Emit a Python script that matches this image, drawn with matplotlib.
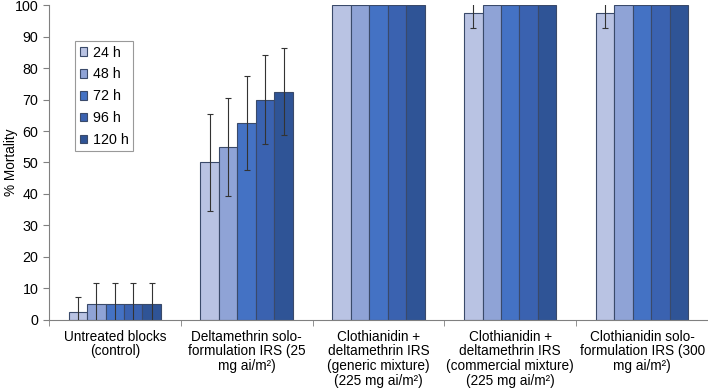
import numpy as np
import matplotlib.pyplot as plt

plt.rcParams['font.family'] = ['Liberation Sans', 'DejaVu Sans']

categories = ['Untreated blocks\n(control)',
              'Deltamethrin solo-\nformulation IRS (25\nmg ai/m²)',
              'Clothianidin +\ndeltamethrin IRS\n(generic mixture)\n(225 mg ai/m²)',
              'Clothianidin +\ndeltamethrin IRS\n(commercial mixture)\n(225 mg ai/m²)',
              'Clothianidin solo-\nformulation IRS (300\nmg ai/m²)']
series = ['24 h', '48 h', '72 h', '96 h', '120 h']
colors = ['#B9C3E3', '#8FA3D6', '#4472C4', '#3A62B0', '#2F5496']

values = [
    [2.5, 50, 100, 97.5, 97.5],
    [5, 55, 100, 100, 100],
    [5, 62.5, 100, 100, 100],
    [5, 70, 100, 100, 100],
    [5, 72.5, 100, 100, 100],
]
errors = [
    [4.8, 15.3, 0, 4.9, 4.9],
    [6.8, 15.5, 0, 0, 0],
    [6.8, 15.0, 0, 0, 0],
    [6.8, 14.2, 0, 0, 0],
    [6.8, 13.8, 0, 0, 0],
]

fs = 9.8

fig = plt.figure(figsize=(7.08, 3.92), dpi=100)
ax = fig.add_axes([0.069, 0.184, 0.931, 0.803])

x = np.arange(len(categories))
w = 0.14
for i, s in enumerate(series):
    xs = x + (i - 2) * w
    ax.bar(xs, values[i], w, color=colors[i], edgecolor='#3a4a6a', linewidth=0.8, label=s, zorder=2)
    err = np.array(errors[i])
    mask = err > 0
    ax.errorbar(xs[mask], np.array(values[i])[mask], yerr=err[mask], fmt='none',
                ecolor='#333333', elinewidth=0.8, capsize=2, capthick=0.8, zorder=3)

ax.set_xlim(-0.5, len(categories) - 0.5)
ax.set_ylim(0, 100)
ax.set_yticks(range(0, 101, 10))
ax.set_xticks(x)
ax.set_xticklabels(categories, fontsize=fs, linespacing=1.08)
ax.set_xticks(np.arange(-0.5, len(categories), 1), minor=True)
ax.tick_params(axis='x', which='major', length=0, pad=7)
ax.tick_params(axis='x', which='minor', length=4, color='#808080')
ax.tick_params(axis='y', length=4, color='#808080', labelsize=fs + 0.5)
ax.set_ylabel('% Mortality', fontsize=fs)
ax.yaxis.set_label_coords(-0.047, 0.5)
for sp in ['top', 'right']:
    ax.spines[sp].set_visible(False)
for sp in ['left', 'bottom']:
    ax.spines[sp].set_color('#808080')

leg = ax.legend(loc='upper left', bbox_to_anchor=(0.04, 0.885), fontsize=fs + 0.5,
                handlelength=0.55, handleheight=0.55, handletextpad=0.4,
                labelspacing=0.55, fancybox=False, edgecolor='#808080', borderpad=0.3,
                borderaxespad=0)
leg.get_frame().set_linewidth(0.8)

fig.savefig('out.png', dpi=100)
